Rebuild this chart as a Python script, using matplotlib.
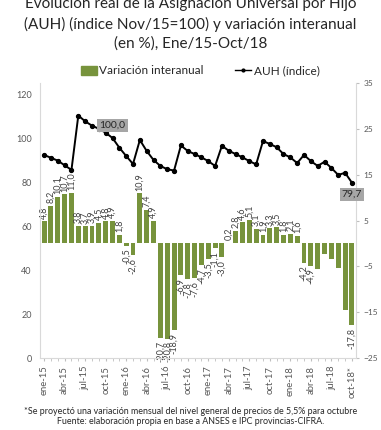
import matplotlib.pyplot as plt
import numpy as np

plt.rcParams['font.family'] = ['Lato', 'DejaVu Sans']

meses = ['ene-15', 'feb-15', 'mar-15', 'abr-15', 'may-15', 'jun-15', 'jul-15', 'ago-15',
         'sep-15', 'oct-15', 'nov-15', 'dic-15', 'ene-16', 'feb-16', 'mar-16', 'abr-16',
         'may-16', 'jun-16', 'jul-16', 'ago-16', 'sep-16', 'oct-16', 'nov-16', 'dic-16',
         'ene-17', 'feb-17', 'mar-17', 'abr-17', 'may-17', 'jun-17', 'jul-17', 'ago-17',
         'sep-17', 'oct-17', 'nov-17', 'dic-17', 'ene-18', 'feb-18', 'mar-18', 'abr-18',
         'may-18', 'jun-18', 'jul-18', 'ago-18', 'sep-18', 'oct-18*']

# variación interanual (%), eje derecho
variacion = [4.8, 8.2, 10.1, 10.7, 11.0, 3.8, 3.7, 3.9, 4.5, 4.8, 4.9, 1.8,
             -0.5, -2.6, 10.9, 7.4, 4.9, -20.7, -20.8, -18.9, -6.9, -7.8, -7.6, -4.7,
             -3.5, -1.1, -3.0, 0.2, 2.8, 4.6, 5.1, 3.1, 1.9, 3.3, 3.5, 1.8,
             2.1, 1.6, -4.2, -4.9, -5.5, -2.2, -3.3, -5.4, -14.6, -17.8]
# meses sin etiqueta en el original
sin_etiqueta = ['may-18', 'jun-18', 'jul-18', 'ago-18', 'sep-18']

# AUH índice Nov/15=100, eje izquierdo
auh = [92.3, 91.0, 89.7, 87.6, 85.5, 110.2, 107.6, 105.6, 104.2, 102.4, 100.0, 95.6,
       91.8, 88.2, 99.1, 94.1, 90.0, 87.3, 85.8, 85.2, 96.6, 94.1, 92.7, 91.2,
       89.5, 87.3, 96.5, 94.2, 92.7, 91.2, 89.5, 88.0, 98.6, 97.3, 95.8, 92.7,
       91.2, 88.6, 92.3, 89.5, 87.3, 89.2, 86.4, 83.2, 84.2, 79.7]

verde = '#77933C'
gris_txt = '#595959'

fig = plt.figure(figsize=(3.81, 4.30), dpi=100)
ax = fig.add_axes([40/381, (430-358)/430, (356-40)/381, (358-83)/430])
ax2 = ax.twinx()

x = np.arange(len(meses))

# barras en eje derecho
ax2.bar(x, variacion, width=0.72, color=verde, zorder=2)
for xi, v, m in zip(x, variacion, meses):
    if m in sin_etiqueta:
        continue
    txt = f'{v:.1f}'.replace('.', ',')
    if v >= 0:
        ax2.text(xi, v + 0.6, txt, rotation=90, ha='center', va='bottom',
                 fontsize=6.5, color='#404040')
    else:
        ax2.text(xi, v - 0.6, txt, rotation=90, ha='center', va='top',
                 fontsize=6.5, color='#404040')

# línea AUH en eje izquierdo, por encima de las barras
ax.set_zorder(ax2.get_zorder() + 1)
ax.patch.set_visible(False)
ax.plot(x, auh, color='black', lw=1.4, marker='o', ms=2.8)

i100 = meses.index('nov-15')
ax.annotate('100,0', (x[i100], auh[i100]), xytext=(0, 6), textcoords='offset points',
            ha='center', va='bottom', fontsize=7.5, color='#262626',
            bbox=dict(boxstyle='square,pad=0.2', fc='#A6A6A6', ec='none'))
ax.annotate('79,7', (x[-1], auh[-1]), xytext=(0, -5), textcoords='offset points',
            ha='center', va='top', fontsize=7.5, color='#262626',
            bbox=dict(boxstyle='square,pad=0.2', fc='#A6A6A6', ec='none'))

ax.set_xlim(-0.6, len(meses) - 0.4)
ax.set_ylim(0, 125)
ax2.set_ylim(-25, 35)
ax.set_yticks(range(0, 121, 20))
ax2.set_yticks(range(-25, 36, 10))

ax.set_xticks(x[::3])
ax.set_xticklabels(meses[::3], rotation=90, fontsize=6.8, color=gris_txt)
ax.set_xticks(x, minor=True)
ax.tick_params(axis='x', which='both', length=2.5, color='#BFBFBF', pad=3)
ax.tick_params(axis='y', labelsize=6.5, colors=gris_txt, length=0, pad=6)
ax2.tick_params(axis='y', labelsize=6, colors=gris_txt, length=2.5, pad=3)
ax2.tick_params(axis='y', color='#BFBFBF')

for a in (ax, ax2):
    a.spines['top'].set_visible(False)
    for s in ('left', 'right', 'bottom'):
        a.spines[s].set_color('#D9D9D9')
        a.spines[s].set_linewidth(0.8)
ax2.spines['bottom'].set_visible(False)
ax.spines['right'].set_visible(False)
ax2.spines['left'].set_visible(False)

titulo = ['Evolución real de la Asignación Universal por Hijo',
          '(AUH) (índice Nov/15=100) y variación interanual',
          '(en %), Ene/15-Oct/18']
for yy, linea in zip([4, 24, 44], titulo):
    fig.text(0.5, 1 - yy/430, linea, ha='center', va='center', fontsize=11,
             color='#262626')

h_bar = plt.Rectangle((0, 0), 1, 1, color=verde)
h_lin = plt.Line2D([], [], color='black', lw=1, marker='o', ms=2)
fig.legend([h_bar, h_lin], ['Variación interanual', 'AUH (índice)'],
           loc='center', bbox_to_anchor=(0.525, 1 - 71/430), ncol=2, frameon=False,
           fontsize=8.5, handlelength=1.4, handletextpad=0.2, columnspacing=2.6,
           labelcolor='#262626')

fig.text(0.5, 1 - 411/430,
         '*Se proyectó una variación mensual del nivel general de precios de 5,5% para octubre',
         ha='center', va='center', fontsize=6.4, color='#262626')
fig.text(0.5, 1 - 421/430,
         'Fuente: elaboración propia en base a ANSES e IPC provincias-CIFRA.',
         ha='center', va='center', fontsize=6.4, color='#262626')

fig.savefig('out.png', dpi=100)
